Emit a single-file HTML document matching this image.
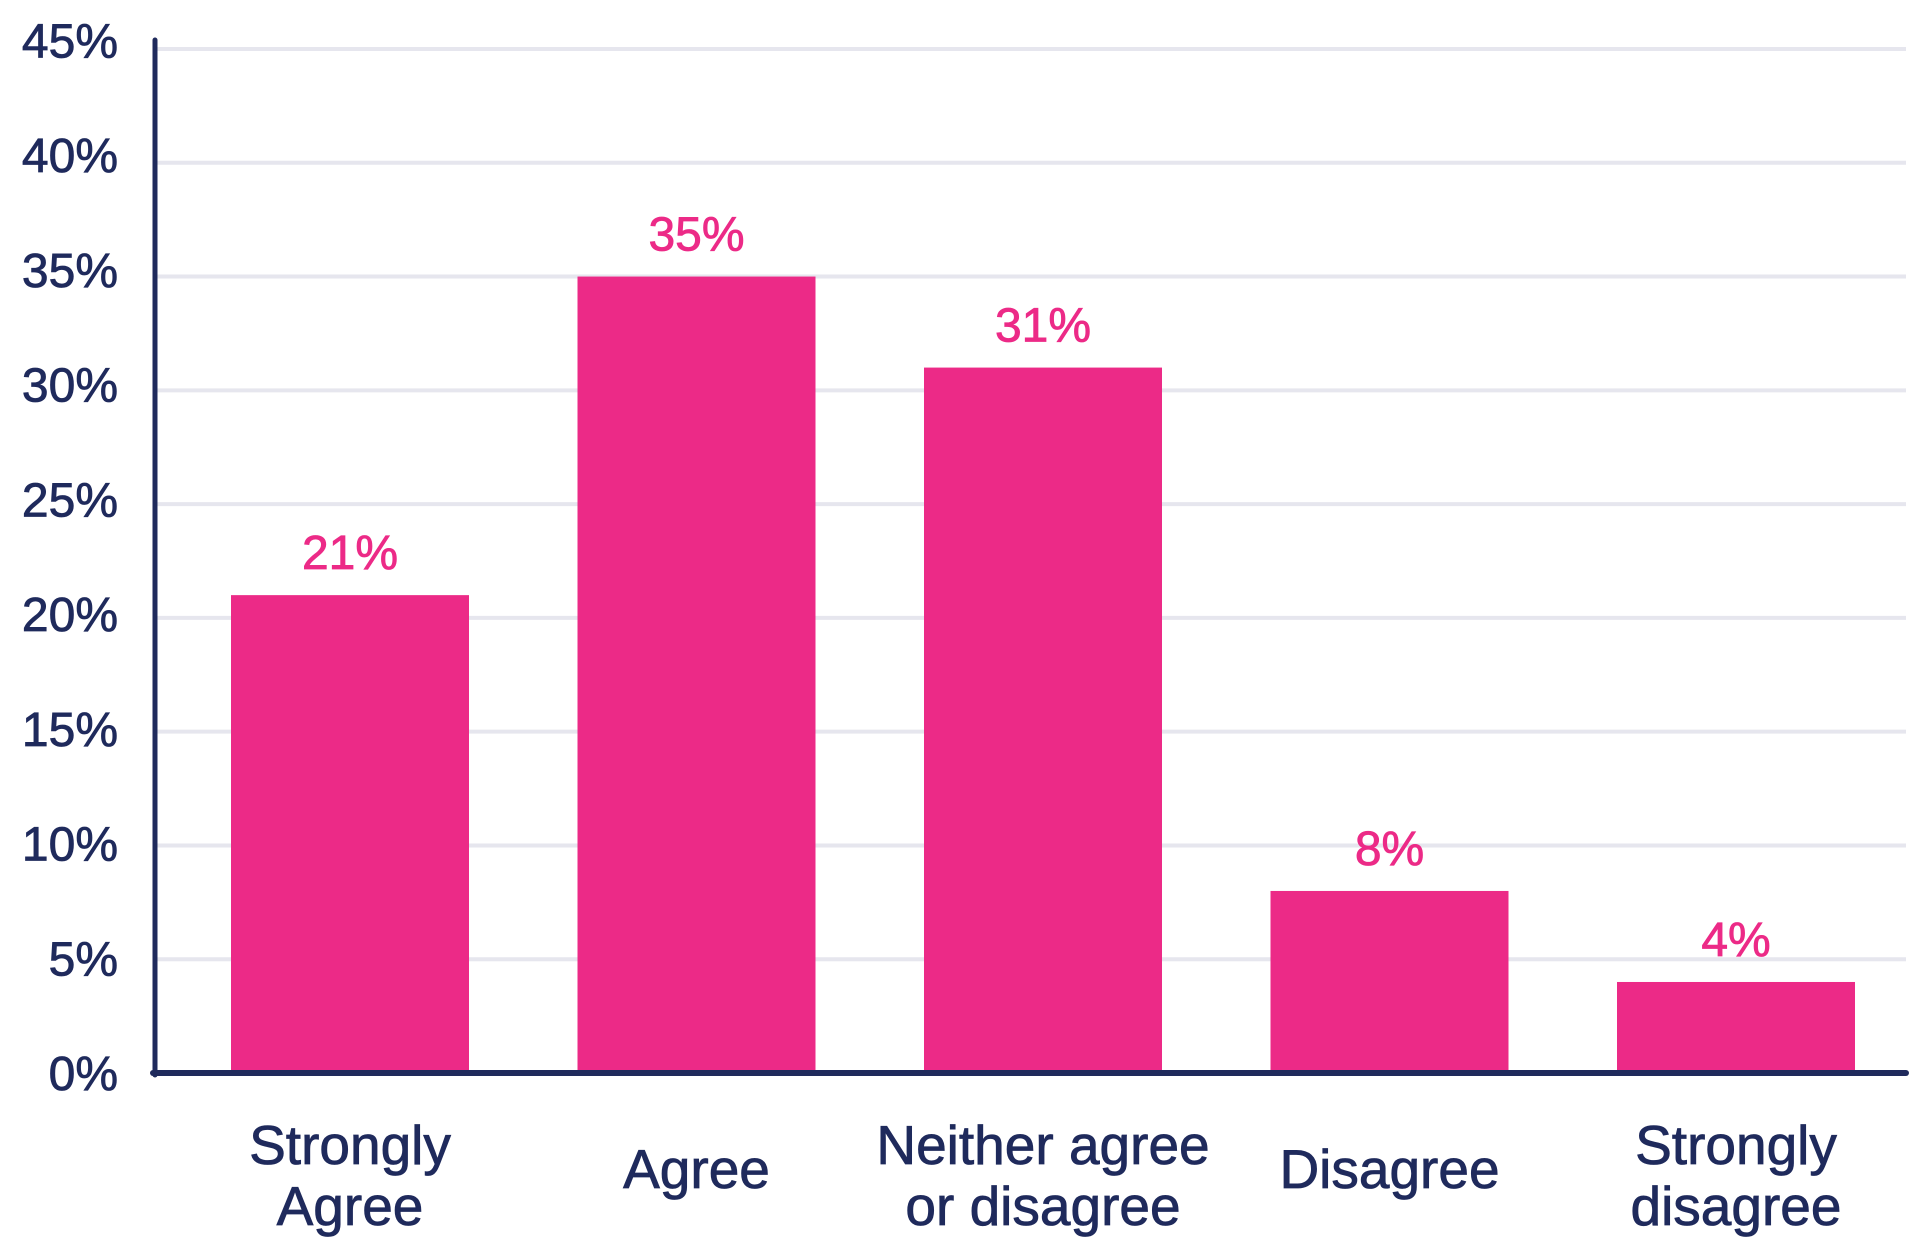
<!DOCTYPE html>
<html><head><meta charset="utf-8"><style>
html,body{margin:0;padding:0;background:#fff;}
svg{display:block;font-family:"Liberation Sans",sans-serif;}
</style></head><body>
<svg id="chart" width="1909" height="1244" viewBox="0 0 1909 1244" xmlns="http://www.w3.org/2000/svg"></svg>
<script>
const categories = [["Strongly","Agree"],["Agree"],["Neither agree","or disagree"],["Disagree"],["Strongly","disagree"]];
const values = [21, 35, 31, 8, 4];
const valueLabels = ["21%","35%","31%","8%","4%"];
const yTicks = [0,5,10,15,20,25,30,35,40,45];
const yTickLabels = ["0%","5%","10%","15%","20%","25%","30%","35%","40%","45%"];

const NS = "http://www.w3.org/2000/svg";
const svg = document.getElementById("chart");
const plotLeft = 155, plotRight = 1906, yTop = 49, yBottom = 1073, yMax = 45;
const firstCenter = 350, pitch = 346.5, barW = 238;
function y(v){ return yBottom - (v / yMax) * (yBottom - yTop); }
function labelY(v){ return 1073 - v * 22.95; }
function xc(i){ return firstCenter + i * pitch; }
function mk(tag, attrs){ const e = document.createElementNS(NS, tag); for (const k in attrs) e.setAttribute(k, attrs[k]); svg.appendChild(e); return e; }

yTicks.forEach((t, i) => {
  if (t > 0) {
    const g = mk("line", {x1: plotLeft, x2: plotRight, y1: y(t), y2: y(t), stroke: "#e6e6ee", "stroke-width": 4});
    
    
  }
  const lb = mk("text", {x: 118, y: labelY(t) + 17, "text-anchor": "end", "font-size": 48, fill: "#1f2a5c", stroke: "#1f2a5c", "stroke-width": 0.8});
  lb.textContent = yTickLabels[i];
  
  
});

values.forEach((v, i) => {
  const r = mk("rect", {x: xc(i) - barW / 2, y: y(v), width: barW, height: yBottom - y(v), fill: "#ec2a87"});
  
  
  const t = mk("text", {x: xc(i), y: y(v) - 26, "text-anchor": "middle", "font-size": 48, fill: "#ec2a87", stroke: "#ec2a87", "stroke-width": 0.8});
  t.textContent = valueLabels[i];
  
  
  const lines = categories[i];
  lines.forEach((ln, j) => {
    const yy = lines.length === 1 ? 1188 : 1164 + j * 61;
    const c = mk("text", {x: xc(i), y: yy, "text-anchor": "middle", "font-size": 55, fill: "#1f2a5c", stroke: "#1f2a5c", "stroke-width": 0.8});
    c.textContent = ln;
    
    
  });
});

const ya = mk("line", {x1: plotLeft, x2: plotLeft, y1: 40, y2: yBottom + 2, stroke: "#1f2a5c", "stroke-width": 5, "stroke-linecap": "round"});


const xa = mk("line", {x1: plotLeft - 2, x2: plotRight, y1: yBottom, y2: yBottom, stroke: "#1f2a5c", "stroke-width": 6, "stroke-linecap": "round"});


</script>
</body></html>
